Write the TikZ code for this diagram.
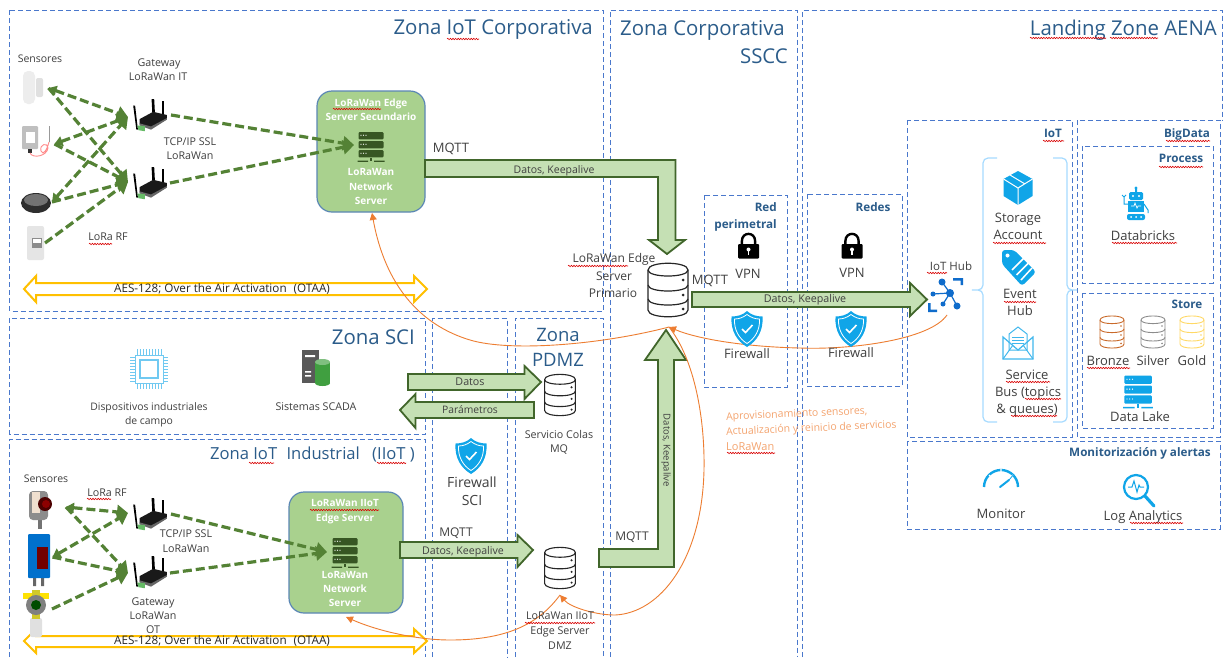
\documentclass[tikz,border=0pt]{standalone}
\usepackage{fontspec}
\setmainfont{Open Sans}
\usetikzlibrary{arrows.meta,decorations.pathmorphing,calc}
\definecolor{zonec}{HTML}{4A78CC}
\definecolor{titlec}{HTML}{2B5C8A}
\definecolor{txt}{HTML}{404040}
\definecolor{boxg}{HTML}{A9D18E}
\definecolor{boxb}{HTML}{5B87B5}
\definecolor{arrf}{HTML}{C5E0B4}
\definecolor{arrd}{HTML}{41662B}
\definecolor{dgreen}{HTML}{548235}
\definecolor{yel}{HTML}{FFC000}
\definecolor{org}{HTML}{ED7D31}
\definecolor{orgt}{HTML}{F4A46F}
\definecolor{azure}{HTML}{10A5E8}
\definecolor{hubb}{HTML}{0F6CCB}
\definecolor{srv}{HTML}{375623}
\tikzset{
 zone/.style={draw=zonec,line width=1pt,dash pattern=on 5pt off 3pt},
 gbox/.style={draw=boxb,line width=1.2pt,fill=boxg,rounded corners=15pt},
 block/.style={draw=arrd,line width=1.8pt,fill=arrf,miter limit=10},
 yblock/.style={draw=yel,line width=2pt,fill=white,miter limit=10},
 radio/.style={draw=dgreen,line width=3.2pt,dash pattern=on 9pt off 4pt},
 tipb/.style={radio,-{Triangle[length=11pt,width=14pt]}},
 tipd/.style={radio,{Triangle[length=8pt,width=10pt]}-{Triangle[length=11pt,width=14pt]}},
 ocurve/.style={draw=org,line width=0.9pt,-{Triangle[length=7pt,width=7pt]}},
 squig/.style={draw=red!85!black,line width=0.6pt,decorate,decoration={snake,amplitude=0.7pt,segment length=2.6pt}},
 boldt/.style={text=titlec,font=\fontsize{11.7}{12}\selectfont\bfseries},
 whitet/.style={text=white,font=\fontsize{10}{10}\selectfont\bfseries},
}
% \T[opts]{name}{x}{y}{size}{text}
\newcommand\T[6][]{\node[inner sep=0pt,text=txt,text height=#5*0.72pt,text depth=#5*0.2pt,font=\fontsize{#5}{#5}\selectfont,#1] (#2) at (#3,#4+1.5) {#6};}
\newcommand\SQ[3]{\draw[squig] (#1,#3) -- (#2,#3);}
% cylinder, 40x53 in own units
\newcommand\cyl[6]{\begin{scope}[shift={(#1,#2)},xscale=#3,yscale=#4,draw=#5,line width=#6]
 \draw[fill=white] (-20,-20) -- (-20,20) .. controls (-20,29) and (20,29) .. (20,20) -- (20,-20) .. controls (20,-29) and (-20,-29) .. (-20,-20) -- cycle;
 \draw (-20,-20) .. controls (-20,-12) and (20,-12) .. (20,-20);
 \draw (-20,-5) .. controls (-20,3) and (20,3) .. (20,-5);
 \draw (-20,9) .. controls (-20,17) and (20,17) .. (20,9);
 \fill[#5] (15,-10) circle[radius=1.5] (15,5) circle[radius=1.5] (15,19) circle[radius=1.5];
\end{scope}}
% server stack
\newcommand\srvicon[4]{\begin{scope}[shift={(#1,#2)},scale=#3]
 \foreach \yy in {-14,-5,4}{\fill[#4,rounded corners=1pt] (-12.5,\yy) rectangle (12.5,\yy+7.4);
  \foreach \xx in {-10,-7.5,-5}{\fill[white] (\xx,\yy+3.3) circle[radius=.6];}}
 \fill[#4] (-.9,11.5) rectangle (.9,15);
 \fill[#4] (-13.5,14.5) rectangle (-3,15.8) (3,14.5) rectangle (13.5,15.8);
\end{scope}}
% shield
\newcommand\shield[2]{\begin{scope}[shift={(#1,#2)}]
 \fill[azure] (0,-18) .. controls (4,-14) and (10,-12.5) .. (15.5,-12.5) .. controls (16.5,2) and (10,12) .. (0,18) .. controls (-10,12) and (-16.5,2) .. (-15.5,-12.5) .. controls (-10,-12.5) and (-4,-14) .. (0,-18) -- cycle;
 \draw[white,line width=.8pt] (0,-14.5) .. controls (4,-11.5) and (8,-10) .. (12.5,-10) .. controls (13,1) and (8,9.5) .. (0,14.5) .. controls (-8,9.5) and (-13,1) .. (-12.5,-10) .. controls (-8,-10) and (-4,-11.5) .. (0,-14.5) -- cycle;
 \draw[white,line width=1.6pt] (-5,0) -- (-1.5,3.5) -- (5.5,-4);
\end{scope}}
% padlock
\newcommand\padlock[2]{\begin{scope}[shift={(#1,#2)}]
 \draw[black,line width=2.4pt] (-6.6,0) -- (-6.6,-5) .. controls (-6.6,-14.5) and (6.6,-14.5) .. (6.6,-5) -- (6.6,0);
 \fill[black,rounded corners=1pt] (-10.5,-2) rectangle (10.5,12.5);
 \fill[white] (0,3.5) circle[radius=2];
 \fill[white] (-.8,4) rectangle (.8,8.5);
\end{scope}}
% router
\newcommand\router[2]{\begin{scope}[shift={(#1,#2)},scale=1.05]
 \fill[black] (-16,-10) -- (-14.2,-10) -- (-11.5,13) -- (-13,13) -- cycle;
 \fill[black] (1.5,-16) -- (4,-16) -- (5,3) -- (2.5,3) -- cycle;
 \fill[black] (11,-14) -- (13.5,-14) -- (13.5,1) -- (11,1) -- cycle;
 \fill[black!90] (-10,3) -- (3,-4) -- (16,-1) -- (16,3) -- (1,12) -- (-10,8) -- cycle;
 \fill[black!60] (-10,7) -- (1,10) -- (16,2) -- (16,3.5) -- (1,13) -- (-10,9) -- cycle;
 \fill[black!45!green!60!white] (-12,9) -- (-5,9.5) -- (-5,14.5) -- (-11,13.5) -- cycle;
\end{scope}}

\begin{document}
\begin{tikzpicture}[x=1pt,y=-1pt]
\useasboundingbox (0,0) rectangle (1225,657);
\fill[white] (0,0) rectangle (1225,657);

% ---------- zones
\draw[zone] (9.5,10) rectangle (603,311);
\draw[zone] (9.5,318) rectangle (425,434);
\draw[zone] (9.5,657) -- (9.5,439) -- (425,439) -- (425,657);
\draw[zone] (432.5,657) -- (432.5,318) -- (507,318) -- (507,657);
\draw[zone] (515,657) -- (515,318) -- (603,318) -- (603,657);
\draw[zone] (610,657) -- (610,10) -- (797.5,10) -- (797.5,657);
\draw[zone] (802.5,657) -- (802.5,10) -- (1222,10) -- (1222,120);
\draw[zone] (704,195) rectangle (787,387);
\draw[zone] (807,194) rectangle (902,386);
\draw[zone] (907,120) rectangle (1072,437);
\draw[zone] (1077,120) rectangle (1220,437);
\draw[zone] (1082,146) rectangle (1213,283);
\draw[zone] (1082,293) rectangle (1213,428);
\draw[zone] (907,441) rectangle (1220,529);

% ---------- green boxes
\node[gbox,minimum width=108pt,minimum height=121pt,inner sep=0pt] (edge2) at (371,151.5) {};
\node[gbox,minimum width=114pt,minimum height=121pt,inner sep=0pt] (iiot) at (346,552.5) {};

% ---------- yellow arrows
\draw[yblock] (24,289) -- (36,276) -- (36,283) -- (414,283) -- (414,276) -- (427,289) -- (414,302) -- (414,295) -- (36,295) -- (36,302) -- cycle;
\draw[yblock] (24,641) -- (36,629) -- (36,636) -- (414,636) -- (414,629) -- (427,641) -- (414,653) -- (414,647) -- (36,647) -- (36,653) -- cycle;

% ---------- block arrows
\draw[block] (425,160) -- (675.5,160) -- (675.5,240) -- (685,240) -- (667,254) -- (649,240) -- (658,240) -- (658,177) -- (425,177) -- cycle;
\draw[block] (692,292) -- (910,292) -- (910,283) -- (927,299.5) -- (910,316) -- (910,307) -- (692,307) -- cycle;
\draw[block] (599,549) -- (658,549) -- (658,360) -- (645,360) -- (666,330) -- (686,360) -- (674,360) -- (674,567) -- (599,567) -- cycle;
\draw[block] (408,374) -- (524.5,374) -- (524.5,366) -- (541,382) -- (524.5,399) -- (524.5,390) -- (408,390) -- cycle;
\draw[block] (534,402) -- (415.5,402) -- (415.5,394) -- (400,410) -- (415.5,428) -- (415.5,418) -- (534,418) -- cycle;
\draw[block] (400,542) -- (517.5,542) -- (517.5,535) -- (533,550) -- (517.5,567) -- (517.5,558) -- (400,558) -- cycle;

% ---------- end points of radio links
\foreach \n/\x/\y in {a1/48.5/88,a2/54.5/144,a3/52/202,a4/45/243,g1in/128/117,g2in/128/182,g1out/171/115,g2out/170/183,srvA/354/145,
 b1/66/507,b2/52.5/557,b3/52/609,h1in/128/513,h2in/128/573,h1out/171/514,h2out/170/573,srvB/327/552}{\coordinate (\n) at (\x,\y);}
\draw[tipd] (a1) -- (g1in);
\draw[tipb] (a1) -- (g2in);
\draw[tipd] (a2) -- (g1in);
\draw[tipb] (a2) -- (g2in);
\draw[tipd] (a3) -- (g1in);
\draw[tipb] (a3) -- (g2in);
\draw[tipb] (a4) -- (g2in);
\draw[tipb] (g1out) -- (srvA);
\draw[tipb] (g2out) -- (srvA);
\draw[tipd] (b1) -- (h1in);
\draw[tipb] (b1) -- (h2in);
\draw[tipd] (b2) -- (h1in);
\draw[tipb] (b2) -- (h2in);
\draw[tipb] (b3) -- (h2in);
\draw[tipb] (h1out) -- (srvB);
\draw[tipb] (h2out) -- (srvB);

% ---------- database icons
\cyl{668}{290}{1}{1}{black!85}{1.2pt}
\cyl{560}{395}{.77}{.77}{black!85}{1.1pt}
\cyl{560}{568}{.77}{.77}{black!85}{1.1pt}
\cyl{1112}{332}{.6}{.6}{org!85!black}{.9pt}
\cyl{1153}{332}{.6}{.6}{black!45}{.9pt}
\cyl{1192}{332}{.6}{.6}{yel!60}{.9pt}
\srvicon{371}{146}{1}{srv}
\srvicon{345}{552}{1}{srv}
\srvicon{1138}{391}{1.1}{azure}

% ---------- orange curves
\coordinate (pri) at (669,327);
\coordinate (hub) at (947,315);
\coordinate (dmz) at (560,595);
\coordinate (secTip) at (372,213);
\coordinate (iiotTip) at (346,617);
\draw[ocurve] (pri) .. controls (600,345) and (510,352) .. (470,340) .. controls (420,325) and (385,285) .. (secTip);
\draw[ocurve] (hub) .. controls (930,340) and (850,350) .. (800,348) .. controls (750,347) and (700,340) .. (pri);
\draw[ocurve] (pri) .. controls (695,360) and (705,420) .. (704,470) .. controls (702,560) and (660,613) .. (615,615) .. controls (595,615) and (570,607) .. (dmz);
\draw[ocurve] (dmz) .. controls (540,622) and (510,640) .. (450,640) .. controls (420,640) and (380,632) .. (iiotTip);

% ---------- shields, locks
\padlock{748.5}{246}
\padlock{852}{246}
\shield{747}{329}
\shield{851}{329}
\shield{471}{456}

% ---------- sensors, top
\begin{scope}[shift={(33,87)}]
 \fill[black!7,rounded corners=5pt] (-10,-16) rectangle (2,17);
 \fill[black!12,rounded corners=2pt] (3,-9) rectangle (10,10);
\end{scope}
\begin{scope}[shift={(35,140)}]
 \fill[black!25,rounded corners=1pt] (-13,-14) rectangle (3,9);
 \fill[white] (-9,-8) rectangle (0,3);
 \fill[black!80] (-7,9) rectangle (-3,13);
 \draw[red!45,line width=.9pt] (-5,13) .. controls (-2,19) and (12,16) .. (13,8) .. controls (13,2) and (4,4) .. (6,11) .. controls (8,16) and (12,10) .. (14,2);
 \draw[black!40,line width=1pt] (14,2) -- (14,-14);
\end{scope}
\fill[black!82] (36,203) ellipse[x radius=15,y radius=10];
\fill[black!55] (36,200) ellipse[x radius=12,y radius=6];
\begin{scope}[shift={(36,243)}]
 \fill[black!10,rounded corners=2pt] (-9,-17) rectangle (8,17);
 \fill[black!45] (-4,-5) rectangle (6,5);
 \fill[white] (-3,-4) rectangle (5,0);
\end{scope}
% ---------- sensors, bottom
\begin{scope}[shift={(40,507)}]
 \fill[black!55] (-2,12) rectangle (2,22);
 \fill[black!45,rounded corners=4pt] (-11,-16) rectangle (8,13);
 \fill[brown!25!white] (-8,-15) rectangle (0,6);
 \fill[black!70!red] (5,-3) circle[radius=7];
 \fill[red!55!black] (6,-3) circle[radius=4];
\end{scope}
\begin{scope}[shift={(39,557)}]
 \fill[black!60] (-6,19) rectangle (-3,29) (2,19) rectangle (5,29);
 \fill[blue!45!cyan!80!black,rounded corners=1pt] (-11,-23) rectangle (11,21);
 \fill[red!45!black] (-2,-10) rectangle (9,12);
\end{scope}
\begin{scope}[shift={(36,610)}]
 \fill[black!12,rounded corners=2pt] (-6,8) rectangle (6,27);
 \fill[yellow!85!orange] (-13,-17) rectangle (13,-11);
 \fill[yellow!80!black] (-4,-20) rectangle (4,9);
 \fill[black!50] (0,-5) circle[radius=10];
 \fill[green!30!black] (0,-5) circle[radius=5];
\end{scope}
% ---------- routers
\router{150}{116}
\router{150}{184}
\router{150}{515}
\router{150}{573}

% ---------- chip
\begin{scope}[shift={(149,369)},draw=azure!60]
 \draw[line width=.9pt] (-14,-14) rectangle (14,14);
 \draw[line width=1.4pt] (-9,-9) rectangle (9,9);
 \foreach \k in {-12,-9,...,12}{
  \draw[line width=.7pt] (\k,-14) -- (\k,-20) (\k,14) -- (\k,20) (-14,\k) -- (-19,\k) (14,\k) -- (19,\k);}
\end{scope}
% ---------- SCADA
\begin{scope}[shift={(316,369)}]
 \fill[black!65] (-14,-19) rectangle (3,14);
 \fill[white] (-11,-14) rectangle (-1,-12) (-11,2) rectangle (-5,3.5) (-11,6) rectangle (-5,7.5);
 \fill[green!50!black!75] (-1,-7) rectangle (14,14);
 \fill[green!50!black!75] (6.5,14) ellipse[x radius=7.5,y radius=3];
 \fill[green!50!black!50] (6.5,-7) ellipse[x radius=7.5,y radius=3];
\end{scope}
% ---------- IoT hub
\begin{scope}[hubb]
 \draw[line width=1.2pt] (950,293) -- (942,282) (950,293) -- (933,294) (950,293) -- (957,306) (950,293) -- (943,304);
 \fill (950,293) circle[radius=4];
 \fill (942,282) circle[radius=3.5] (933,294) circle[radius=2.5] (957,306) circle[radius=3.5] (943,304) circle[radius=2.5];
 \fill (953,278) rectangle (963,280.5) (960.5,278) rectangle (963,285);
 \fill (928,303) rectangle (930.5,312) (928,309.5) rectangle (937,312);
\end{scope}
% ---------- brace
\draw[draw=blue!40!cyan!35,line width=1.2pt,rounded corners=5pt] (997,158) -- (983,158) -- (983,290) -- (969,290) -- (983,290) -- (983,422) -- (997,422);
\draw[draw=blue!40!cyan!35,line width=1.2pt,rounded corners=5pt] (1053,158) -- (1067,158) -- (1067,290) -- (1080,290) -- (1067,290) -- (1067,422) -- (1053,422);
% ---------- storage cube
\fill[azure] (1018,171) -- (1032.5,179) -- (1032.5,196) -- (1018,205) -- (1003.5,196) -- (1003.5,179) -- cycle;
\draw[white,line width=1pt] (1003.5,179) -- (1018,188) -- (1032.5,179) (1018,188) -- (1018,205) (1010,175) -- (1025,184);
% ---------- tag
\fill[azure,rounded corners=3pt] (1002,250) -- (1014,250) -- (1036,272) -- (1022,286) -- (1002,264) -- cycle;
\fill[white] (1007.5,255.5) circle[radius=2];
\draw[white,line width=1.5pt] (1012,270) -- (1024,258) (1016.5,275) -- (1028.5,263) (1021,280) -- (1032,268);
% ---------- envelope
\begin{scope}[draw=azure!80,line width=1pt]
 \draw[fill=white] (1009,334) -- (1018,327) -- (1027,334) -- (1027,350) -- (1009,350) -- cycle;
 \draw (1012,337) -- (1024,337) (1012,340) -- (1024,340) (1012,343) -- (1024,343);
 \draw[line width=1.2pt] (1003,337) -- (1003,359) -- (1033,359) -- (1033,337) -- (1018,350) -- cycle;
 \draw (1003,359) -- (1013,345) (1033,359) -- (1023,345);
\end{scope}
% ---------- robot
\begin{scope}[shift={(1136,204)},azure]
 \fill (0,-16) circle[radius=1.6] (-1,-15) rectangle (1,-12);
 \fill[rounded corners=1.5pt] (-7,-12) rectangle (7,-4);
 \fill[white] (-3,-8) circle[radius=1.2] (3,-8) circle[radius=1.2];
 \fill (-8,-3) rectangle (8,8);
 \draw[white,line width=.7pt] (-5,2) -- (-2,2) -- (-1,-1) -- (1,4) -- (2,2) -- (5,2);
 \draw[line width=1pt] (-8,0) -- (-12,0) -- (-12,-7) (-14,-9) -- (-12,-7) -- (-10,-9);
 \draw[line width=1pt] (8,0) -- (12,6) -- (12,9);
 \fill[rounded corners=2pt] (-9,10) rectangle (9,16);
 \fill[white] (-5,13) circle[radius=1] (0,13) circle[radius=1] (5,13) circle[radius=1];
\end{scope}
% ---------- gauge
\begin{scope}[shift={(1001,487)},azure]
 \draw[line width=2.4pt] (-17,0) arc[start angle=180,end angle=360,radius=17];
 \draw[white,line width=1.2pt] (-12,-12) -- (-9,-9) (0,-18) -- (0,-14) (12,-12) -- (9,-9);
 \draw[line width=2pt,line cap=round] (-1,0) -- (8,-7);
 \draw[line width=.8pt] (8,-7) -- (13,-13);
\end{scope}
% ---------- log analytics
\begin{scope}[shift={(1136,487)},azure]
 \draw[line width=2.2pt,fill=white] (0,0) circle[radius=12];
 \draw[line width=3.2pt,line cap=round] (9,9) -- (18,19);
 \draw[line width=1pt] (-8,0) -- (-4,0) -- (-2,-6) -- (1,5) -- (3,-2) -- (4,0) -- (8,0);
\end{scope}

% ---------- titles
\T[anchor=east,text=titlec]{t1}{593}{28}{20.4}{Zona IoT Corporativa}
\T[anchor=east,text=titlec]{t2}{785}{29}{20.4}{Zona Corporativa}
\T[anchor=east,text=titlec]{t3}{788}{57}{20.4}{SSCC}
\T[anchor=east,text=titlec]{t4}{1217}{29}{20.4}{Landing Zone AENA}
\T[anchor=east,text=titlec]{t5}{415}{338}{20.4}{Zona SCI}
\T[text=titlec]{t6}{558}{335}{18.5}{Zona}
\T[text=titlec]{t7}{558}{360}{18.5}{PDMZ}
\T[anchor=east,text=titlec]{t8}{415}{454}{16.6}{Zona IoT\hspace{5pt} Industrial\hspace{8pt} (IIoT )}
\T[anchor=east,boldt]{t9}{777}{207}{11.7}{Red}
\T[anchor=east,boldt]{t10}{777}{224}{11.7}{perimetral}
\T[boldt]{t11}{873}{207}{11.7}{Redes}
\T[boldt]{t12}{1053}{133}{11.7}{IoT}
\T[boldt]{t13}{1187}{133}{11.7}{BigData}
\T[boldt]{t14}{1181}{158}{11.7}{Process}
\T[boldt]{t15}{1187}{304}{11.7}{Store}
\T[boldt]{t16}{1140}{452}{11.7}{Monitorización y alertas}

% ---------- labels, IoT corporativa
\T{l1}{40}{58}{10.5}{Sensores}
\T{l2}{159}{62}{10.7}{Gateway}
\T{l3}{158}{76}{10.7}{LoRaWan IT}
\T{l4}{190}{141}{10.7}{TCP/IP SSL}
\T{l5}{190}{155}{10.7}{LoRaWan}
\T{l6}{108}{236}{10.7}{LoRa RF}
\T[whitet]{l7}{371}{102}{10}{LoRaWan Edge}
\T[whitet]{l8}{371}{116}{10}{Server Secundario}
\T[whitet]{l9}{371}{171}{10}{LoRaWan}
\T[whitet]{l10}{371}{186}{10}{Network}
\T[whitet]{l11}{371}{200}{10}{Server}
\T{l12}{451}{148}{13}{MQTT}
\T{l13}{554}{169}{10.5}{Datos, Keepalive}
\T[text=black!85]{l14}{222}{288}{11.7}{AES-128; Over the Air Activation\hspace{4pt} (OTAA)}
% ---------- corporativa
\T{m1}{614}{258}{12}{LoRaWan Edge}
\T{m2}{614}{276}{12}{Server}
\T{m3}{613}{293}{12}{Primario}
\T{m4}{710}{280}{13}{MQTT}
\T{m5}{748}{274}{13}{VPN}
\T{m6}{852}{273}{13}{VPN}
\T{m7}{747}{354}{13}{Firewall}
\T{m8}{851}{353}{13}{Firewall}
\T{m9}{805}{298}{10.7}{Datos, Keepalive}
\T[rotate=-90]{m10}{666}{449}{9.5}{Datos, Keepalive}
\T{m11}{632}{536}{12}{MQTT}
\T[anchor=west,text=orgt,rotate=2.5]{m12}{726}{416}{10.5}{Aprovisionamiento sensores,}
\T[anchor=west,text=orgt,rotate=2.5]{m13}{726}{431}{10.5}{Actualización y reinicio de servicios}
\T[anchor=west,text=orgt]{m14}{726}{446}{11}{LoRaWan}
% ---------- SCI, PDMZ
\T{s1}{149}{406}{10.4}{Dispositivos industriales}
\T{s2}{149}{420}{10.4}{de campo}
\T{s3}{316}{406}{10.7}{Sistemas SCADA}
\T{s4}{470}{381}{10.7}{Datos}
\T{s5}{470}{409}{10.3}{Parámetros}
\T{s6}{472}{482}{14}{Firewall}
\T{s7}{472}{500}{14}{SCI}
\T{s8}{559}{434}{10.7}{Servicio Colas}
\T{s9}{559}{448}{10.7}{MQ}
% ---------- IIoT
\T{i1}{46}{478}{10.5}{Sensores}
\T{i2}{107}{492}{10.7}{LoRa RF}
\T{i3}{186}{533}{10.7}{TCP/IP SSL}
\T{i4}{186}{548}{10.7}{LoRaWan}
\T{i5}{153}{601}{10.7}{Gateway}
\T{i6}{153}{615}{10.7}{LoRaWan}
\T{i7}{153}{629}{10.7}{OT}
\T[whitet]{i8}{345}{502}{10}{LoRaWan IIoT}
\T[whitet]{i9}{345}{517}{10}{Edge Server}
\T[whitet]{i10}{345}{574}{10}{LoRaWan}
\T[whitet]{i11}{345}{588}{10}{Network}
\T[whitet]{i12}{345}{602}{10}{Server}
\T{i13}{456}{532}{12}{MQTT}
\T{i14}{463}{550}{10.6}{Datos, Keepalive}
\T[text=black!85]{i15}{222}{640}{11.7}{AES-128; Over the Air Activation\hspace{4pt} (OTAA)}
\T{i16}{560}{615}{10.7}{LoRaWan IIoT}
\T{i17}{560}{630}{10.7}{Edge Server}
\T{i18}{560}{645}{10.7}{DMZ}
% ---------- landing
\T{z1}{951}{266}{11.5}{IoT Hub}
\T{z2}{1018}{218}{13}{Storage}
\T{z3}{1018}{235}{13}{Account}
\T{z4}{1020}{294}{13}{Event}
\T{z5}{1020}{311}{13}{Hub}
\T{z6}{1027}{375}{13}{Service}
\T{z7}{1028}{392}{13}{Bus (topics}
\T{z8}{1027}{409}{13}{\& queues)}
\T{z9}{1143}{236}{13}{Databricks}
\T{z10}{1108}{361}{13}{Bronze}
\T{z11}{1153}{361}{13}{Silver}
\T{z12}{1192}{361}{13}{Gold}
\T{z13}{1140}{417}{13}{Data Lake}
\T{z14}{1001}{514}{13}{Monitor}
\T{z15}{1143}{516}{13}{Log Analytics}

% ---------- spelling marks
\SQ{447}{479}{39}
\SQ{89}{112}{244}
\SQ{333}{381}{109}
\SQ{1030}{1106}{38}
\SQ{1110}{1158}{38}
\SQ{249}{274}{463}
\SQ{377}{406}{463}
\SQ{87}{111}{499}
\SQ{310}{379}{510}
\SQ{525}{595}{623}
\SQ{568}{628}{266}
\SQ{727}{775}{453}
\SQ{1043}{1064}{141}
\SQ{1166}{1210}{141}
\SQ{1159}{1203}{167}
\SQ{1112}{1177}{243}
\SQ{1087}{1130}{368}
\SQ{993}{1046}{243}
\SQ{927}{947}{273}
\SQ{1004}{1036}{302}
\SQ{1006}{1050}{382}
\SQ{1025}{1061}{399}
\SQ{1011}{1057}{416}
\SQ{1130}{1183}{523}
\end{tikzpicture}
\end{document}
